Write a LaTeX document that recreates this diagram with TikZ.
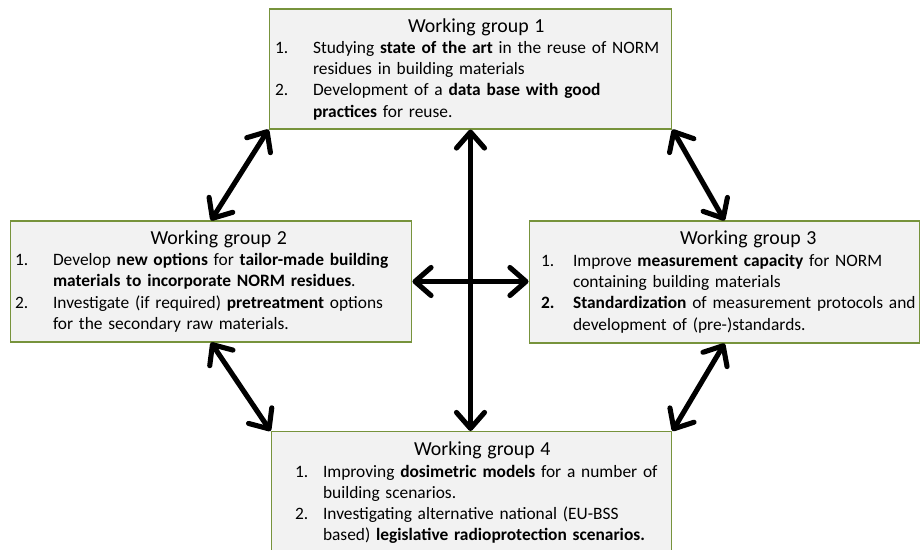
\documentclass[tikz,border=0pt]{standalone}
\usepackage{fontspec}
\setmainfont{Carlito}
\usetikzlibrary{calc, shapes, arrows.meta}
\usepackage{xcolor}
\definecolor{wgGreen}{RGB}{119,147,60}
\definecolor{wgFill}{RGB}{242,242,242}
\newlength{\numindent}
\newlength{\txtindent}

\begin{document}
\begin{tikzpicture}[x=0.02cm, y=-0.02cm,
  wgtip/.tip={Straight Barb[length=0.32cm, width=0.56cm, round]},
  wgbox/.style={draw=wgGreen, fill=wgFill, line width=0.6pt, inner xsep=0pt, inner ysep=0pt,
    align=left, font=\fontsize{9.9}{12.1}\selectfont},
  wgarrow/.style={line width=2.9pt, line cap=round, wgtip-wgtip}]
\newcommand{\wgindent}[2]{\setlength{\numindent}{#1}\setlength{\txtindent}{#2}}
\newcommand{\wgtitle}[2][0pt]{
{\noindent\centering\fontsize{11.3}{13.5}\selectfont\hspace*{#1}#2\par}
}\newcommand{\wgitem}[2]{
{\leftskip=\txtindent\rightskip=0pt plus 1fil\noindent\llap{\makebox[\dimexpr\txtindent-\numindent\relax][l]{#1}}#2\par}
}%Page frame
\useasboundingbox (0,0) rectangle (921,549);
\clip (0,0) rectangle (921,549);
%Box centres
\coordinate (c1) at (470.5,69);
\coordinate (c2) at (211,281.5);
\coordinate (c3) at (724.5,282);
\coordinate (top4) at (471.5,431);
%Working group 1
\node [wgbox, text width=8.06cm, minimum height=2.4cm] (wg1) at (c1) {
\wgindent{0.12cm}{0.88cm}
\wgtitle{Working group 1}
\wgitem{1.}{Studying \textbf{state of the art} in the reuse of NORM\newline residues in building materials}
\wgitem{2.}{Development of a \textbf{data base with good}\newline \textbf{practices} for reuse.}
};
%Working group 2
\node [wgbox, text width=8.04cm, minimum height=2.42cm] (wg2) at (c2) {
\wgindent{0.1cm}{0.86cm}
\wgtitle[0.08cm]{Working group 2}
\wgitem{1.}{Develop \textbf{new options} for \textbf{tailor-made building}\newline \textbf{materials to incorporate NORM residues}.}
\wgitem{2.}{Investigate (if required) \textbf{pretreatment} options\newline for the secondary raw materials.}
};
%Working group 3
\node [wgbox, text width=7.82cm, minimum height=2.44cm] (wg3) at (c3) {
\wgindent{0.24cm}{0.88cm}
\wgtitle[0.72cm]{Working group 3}
\wgitem{1.}{Improve \textbf{measurement capacity} for NORM\newline containing building materials}
\wgitem{\textbf{2.}}{\textbf{Standardization} of measurement protocols and\newline development of (pre-)standards.}
};
%Working group 4
\node [wgbox, text width=8.02cm, minimum height=2.46cm, anchor=north] (wg4) at (top4) {
\wgindent{0.48cm}{1.04cm}
\wgtitle[0.2cm]{Working group 4}
\wgitem{1.}{Improving \textbf{dosimetric models} for a number of\newline building scenarios.}
\wgitem{2.}{Investigating alternative national (EU-BSS\newline based) \textbf{legislative radioprotection scenarios.}}
};
%Double arrows between the groups
\draw [wgarrow] (wg1.south west) -- (wg2.north);
\draw [wgarrow] (wg1.south east) -- (wg3.north);
\draw [wgarrow] (wg1.south) -- (wg1.south |- wg4.north);
\draw [wgarrow] (wg2.east) -- (wg2.east -| wg3.west);
\draw [wgarrow] (wg2.south) -- (wg4.north west);
\draw [wgarrow] (wg3.south) -- (wg4.north east);
\end{tikzpicture}
\end{document}
